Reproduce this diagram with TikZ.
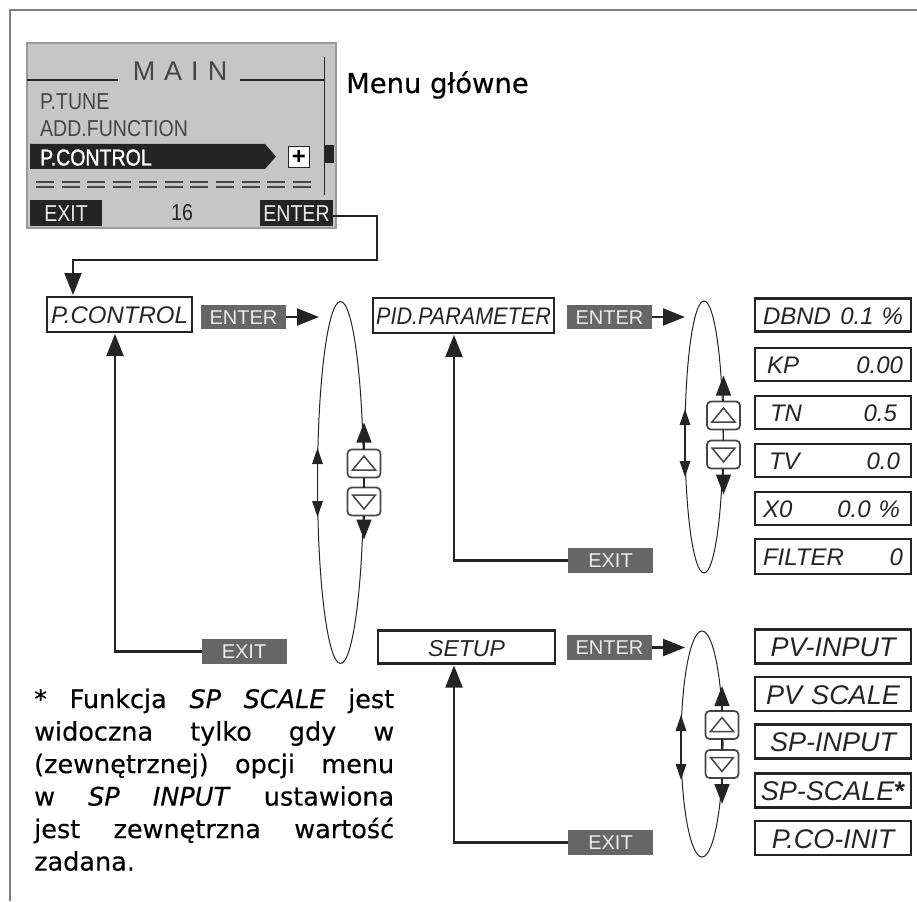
\documentclass[tikz,border=0pt]{standalone}
\usepackage{fontspec}
\setmainfont{Liberation Sans}
\newfontfamily\opis[FakeBold=0.35]{DejaVu Sans}
\newfontfamily\lcdf[FakeStretch=0.85]{Liberation Sans}
\newfontfamily\lcdb[FakeStretch=0.85,FakeBold=1.2]{Liberation Sans}
\usepackage{tikz}
\usetikzlibrary{arrows.meta,positioning,calc,shapes.geometric}
\definecolor{ciemny}{HTML}{242424}
\definecolor{szary}{HTML}{666666}
\definecolor{lcd}{HTML}{C6C6C6}
\tikzset{
  strz/.style={line width=2.2pt,draw=ciemny,shorten >=2pt,-{Triangle[length=22pt,width=17pt]}},
  strzg/.style={line width=1.5pt,draw=ciemny,-{Triangle[length=20pt,width=15pt]}},
  strzl/.style={line width=1.6pt,draw=ciemny,{Triangle[length=16pt,width=10.5pt]}-{Triangle[length=16pt,width=10.5pt]}},
  elipsa/.style={ellipse,draw=ciemny,line width=1pt,inner sep=0pt,outer sep=0pt},
  pole/.style={draw=ciemny,line width=2.8pt,outer sep=0pt,inner xsep=8pt,inner ysep=0pt,text width=140pt,
    minimum height=33pt,text height=18pt,text depth=0pt,align=left,text=ciemny,font=\fontsize{24}{26}\selectfont\itshape},
  polec/.style={pole,align=center,minimum height=34pt,text height=20pt,font=\fontsize{27}{28}\selectfont\itshape},
  wpis/.style={draw=ciemny,line width=2.8pt,outer sep=0pt,inner sep=0pt,text height=18pt,text depth=0pt,
    text=ciemny,font=\fontsize{24}{26}\selectfont\itshape},
  szar/.style={fill=szary,text=white!92!black,inner sep=0pt,outer sep=0pt,minimum width=85pt,minimum height=24.5pt,
    text height=14.5pt,text depth=0pt,font=\fontsize{20}{22}\selectfont},
  czar/.style={fill=ciemny,text=white!92!black,inner sep=0pt,outer sep=0pt,minimum height=26pt,
    text height=16.5pt,text depth=0pt,font=\lcdf\fontsize{23}{25}\selectfont},
  menu/.style={inner sep=0pt,anchor=base west,text=ciemny!85!white,font=\lcdf\fontsize{23}{25}\selectfont},
  przyc/.style={draw=ciemny!85!white,fill=white,line width=1.7pt,rounded corners=4pt,minimum width=33pt,minimum height=28pt,
    inner sep=0pt,outer sep=0pt},
  gora/.style={przyc,path picture={\draw[draw=ciemny!85!white,line width=1.5pt,sharp corners]
    ($(path picture bounding box.center)+(-11.5,6.5)$) -- ++(23,0) -- ++(-11.5,-14) -- cycle;}},
  dol/.style={przyc,path picture={\draw[draw=ciemny!85!white,line width=1.5pt,sharp corners]
    ($(path picture bounding box.center)+(-11.5,-6.5)$) -- ++(23,0) -- ++(-11.5,14) -- cycle;}},
}
\begin{document}
\begin{tikzpicture}[x=1pt,y=-1pt]
  \useasboundingbox (0,0) rectangle (917,901);
  \draw[draw=gray,line width=2.2pt] (10,901) -- (10,10) -- (917,10);
  % wyswietlacz
  \draw[fill=lcd,draw=gray!80,line width=2pt] (27,43) rectangle (336,228);
  \draw[draw=ciemny,line width=1.7pt] (27,80) -- (118,80) (240,80) -- (324,80) (324.5,57) -- (324.5,195);
  \fill[ciemny] (325,145) rectangle (334,163);
  \node[inner sep=0pt,text=ciemny!85!white,font=\fontsize{27}{29}\selectfont] (glowne) at (180,71) {M\,\,A\,\,I\,\,N};
  \node[menu] (tune) at (40,110) {P.TUNE};
  \node[menu] (funkcja) at (40,137) {ADD.FUNCTION};
  \fill[ciemny] (30,144) -- (265,144) -- (276,156.5) -- (265,169) -- (30,169) -- cycle;
  \node[menu,text=white,font=\lcdb\fontsize{23}{25}\selectfont] (wybor) at (40,165.5) {P.CONTROL};
  \node[draw=ciemny,fill=white,line width=1.7pt,minimum size=21pt,inner sep=0pt,font=\fontsize{24}{24}\bfseries\selectfont] (plus) at (299,157) {+};
  \draw[draw=ciemny!85!white,line width=1.8pt,dash pattern=on 18pt off 7.7pt] (36,181.7) -- (311,181.7) (36,187.3) -- (311,187.3);
  \node[czar,minimum width=72pt] (wyj0) at (66,213) {EXIT};
  \node[text=ciemny,inner sep=0pt,font=\lcdf\fontsize{23}{25}\selectfont] (num) at (182,213) {16};
  \node[czar,minimum width=73pt] (ent0) at (296.5,213) {ENTER};
  \node[inner sep=0pt,anchor=base west,font=\opis\fontsize{27.4}{30}\selectfont] (tytul) at (346,93) {Menu główne};
  % P.CONTROL
  \node[wpis,minimum width=145pt,minimum height=35pt] (pc) at (119.5,314.5) {P.CONTROL};
  \coordinate (zakret) at (377,260);
  \draw[strz] (ent0.east |- 0,216) -| (zakret) -| ([xshift=-46.5pt]pc.north);
  \node[szar] (ent1) at (243.5,317) {ENTER};
  \node[szar] (wyj1) at (244,651.5) {EXIT};
  \draw[strz] (wyj1) -| ([xshift=-4.5pt]pc.south);
  \coordinate[right=33pt of ent1] (we1);
  \draw[strz,shorten >=0pt] (ent1) -- (we1);
  \node[elipsa,minimum width=46pt,minimum height=362pt] (el1) at (340.5,482.5) {};
  \node[gora] (g1) at (364,463.5) {};
  \node[dol,below=10pt of g1] (d1) {};
  \draw[line width=1.5pt,draw=ciemny] (g1) -- (d1);
  \coordinate[above=27pt of g1] (g1k); \coordinate[below=24pt of d1] (d1k);
  \draw[strzg] (g1) -- (g1k);
  \draw[strzg] (d1) -- (d1k);
  \draw[strzl] ([yshift=-34.5pt]el1.west) -- ([yshift=34.5pt]el1.west);
  % PID.PARAMETER
  \node[wpis,minimum width=181pt,minimum height=35pt] (pid) at (463.5,315.5) {\scalebox{.9}[1]{PID.PARAMETER}};
  \node[szar] (ent2) at (609.5,317) {ENTER};
  \node[szar] (wyj2) at (610.5,560.5) {EXIT};
  \draw[strz] (wyj2) -| ([xshift=-9.5pt]pid.south);
  \coordinate[right=33pt of ent2] (we2);
  \draw[strz,shorten >=0pt] (ent2) -- (we2);
  \node[elipsa,minimum width=38pt,minimum height=272pt] (el2) at (704,437) {};
  \node[gora] (g2) at (723.5,415.5) {};
  \node[dol,below=11pt of g2] (d2) {};
  \draw[line width=1.5pt,draw=ciemny] (g2) -- (d2);
  \coordinate[above=26pt of g2] (g2k); \coordinate[below=26pt of d2] (d2k);
  \draw[strzg] (g2) -- (g2k);
  \draw[strzg] (d2) -- (d2k);
  \draw[strzl] ([yshift=-40pt]el2.west) -- ([yshift=28pt]el2.west);
  \node[pole] (dbnd) at (833,315) {DBND\hfill 0.1 \%};
  \node[pole,below=16.5pt of dbnd] (kp) {\hspace{4pt}KP\hfill 0.00};
  \node[pole,below=15pt of kp] (tn) {\hspace{7pt}TN\hfill 0.5\hspace*{6pt}};
  \node[pole,below=15pt of tn] (tv) {\hspace{6pt}TV\hfill 0.0\hspace*{3pt}};
  \node[pole,below=15pt of tv] (xzero) {X0\hfill 0.0 \%\hspace*{3pt}};
  \node[pole,below=14pt of xzero,minimum height=35pt] (filtr) {FILTER\hfill 0};
  % SETUP
  \node[wpis,minimum width=177pt,minimum height=33pt,font=\fontsize{23}{25}\selectfont\itshape] (setup) at (466.5,647) {SETUP};
  \node[szar] (ent3) at (609.5,647.5) {ENTER};
  \node[szar] (wyj3) at (610.5,842.5) {EXIT};
  \draw[strz] (wyj3) -| ([xshift=-12.5pt]setup.south);
  \coordinate[right=33pt of ent3] (we3);
  \draw[strz,shorten >=0pt] (ent3) -- (we3);
  \node[elipsa,minimum width=42pt,minimum height=226pt] (el3) at (702,744) {};
  \node[gora] (g3) at (722,725) {};
  \node[dol,below=11pt of g3] (d3) {};
  \draw[line width=1.5pt,draw=ciemny] (g3) -- (d3);
  \coordinate[above=25pt of g3] (g3k); \coordinate[below=26pt of d3] (d3k);
  \draw[strzg] (g3) -- (g3k);
  \draw[strzg] (d3) -- (d3k);
  \draw[strzl] ([yshift=-36pt]el3.west) -- ([yshift=29pt]el3.west);
  \node[polec] (pvin) at (833,646.5) {PV-INPUT};
  \node[polec,below=13.5pt of pvin] (pvsc) {PV SCALE};
  \node[polec,below=13.5pt of pvsc] (spin) {SP-INPUT};
  \node[polec,below=15pt of spin] (spsc) {\makebox[140pt][c]{SP-SCALE\textup{\textbf{*}}}};
  \node[polec,below=13.5pt of spsc] (pco) {P.CO-INIT};
  % przypis
  \node[anchor=north west,inner sep=0pt,text width=360pt,align=justify,
    font=\opis\fontsize{25.5}{32.5}\selectfont] (przypis) at (34,688.5)
    {* Funkcja \textit{SP SCALE} jest\linebreak widoczna tylko gdy w\linebreak (zewnętrznej) opcji menu\linebreak
     w \textit{SP INPUT} ustawiona\linebreak jest zewnętrzna wartość\linebreak zadana.};
\end{tikzpicture}
\end{document}
